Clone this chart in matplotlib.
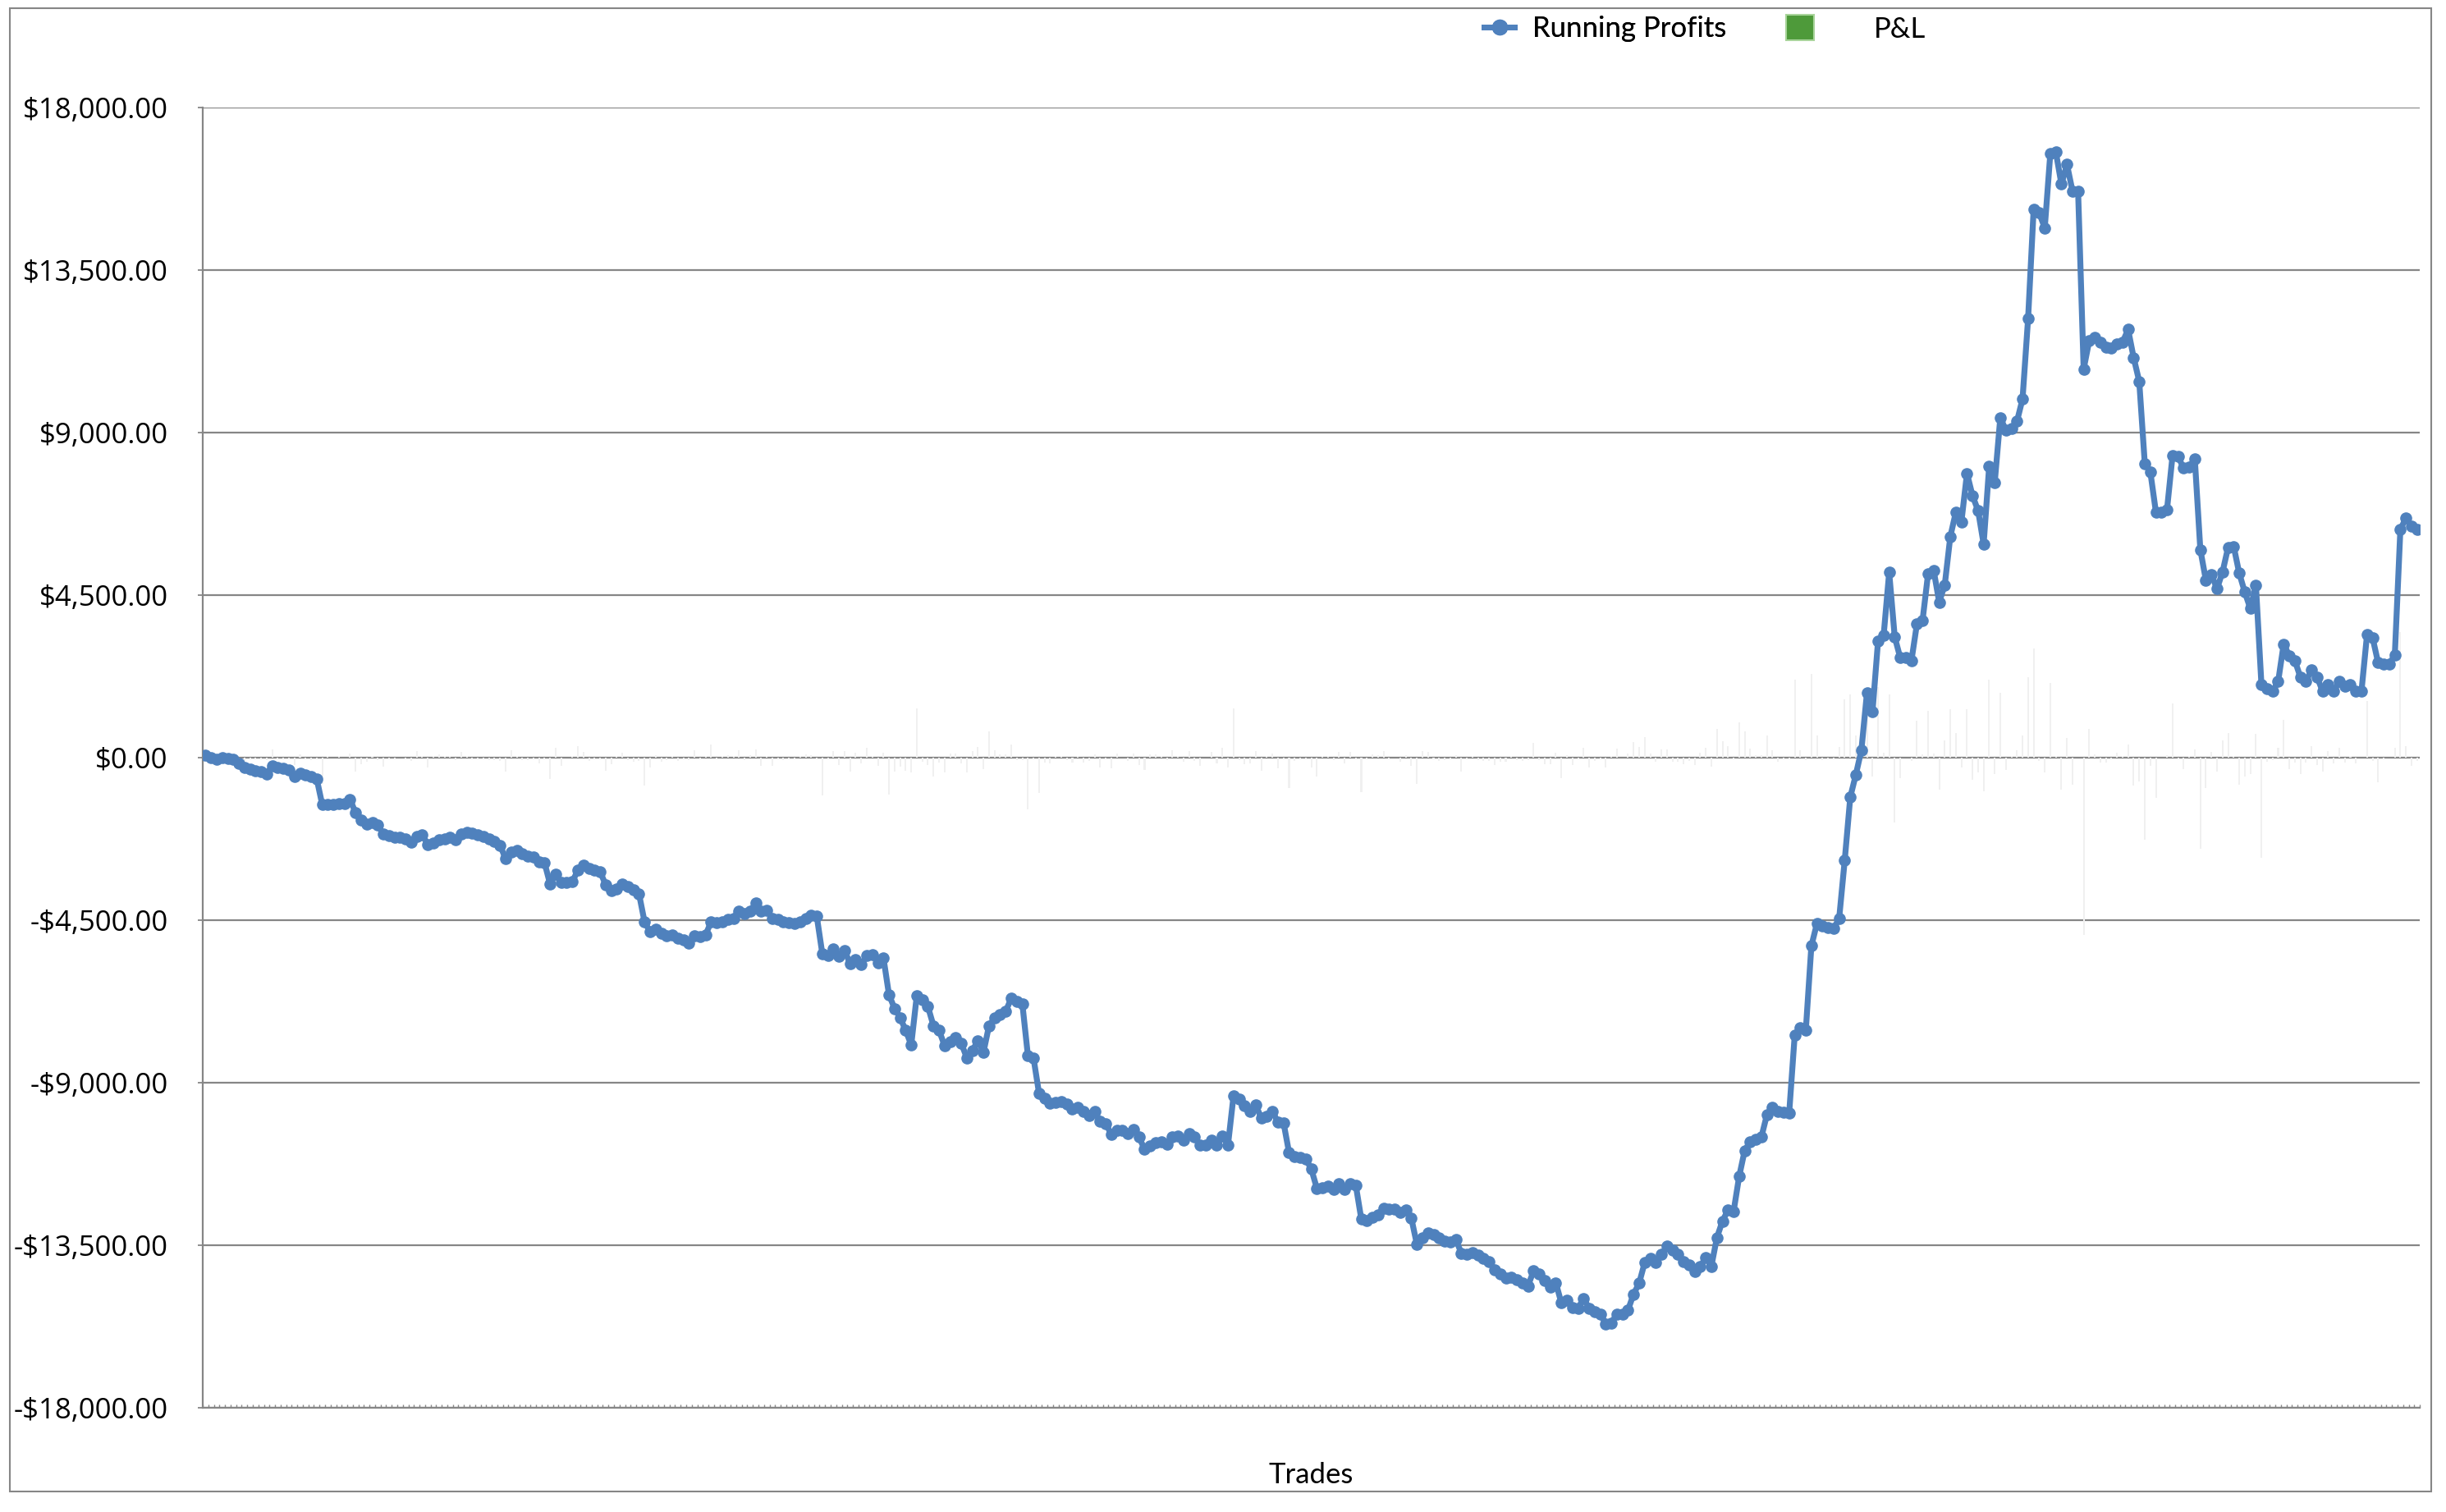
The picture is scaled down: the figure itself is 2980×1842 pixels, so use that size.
# -*- coding: utf-8 -*-
"""
Running profits per trade, with the P&L of each trade as bars
"""

import numpy as np
import matplotlib.pyplot as plt
from matplotlib.lines import Line2D
from matplotlib.patches import Patch, Rectangle
from matplotlib.ticker import FuncFormatter

###############################################################################
# running profit after each trade (in $)
profits_a = [76, 0, -38, 0, -15, -53, -167, -280, -318, -356, -394, -455, -220,
             -265, -303, -333, -530, -432, -470, -530, -583, -1303, -1288, -1288,
             -1265, -1265, -1152, -1530, -1720, -1833, -1795, -1871, -2121, -2152,
             -2197, -2197, -2250, -2348, -2174, -2136, -2402, -2364, -2273, -2250,
             -2197, -2273, -2121, -2076, -2098, -2136, -2174, -2250, -2326, -2424,
             -2803, -2606, -2576, -2652, -2727, -2742, -2894, -2909, -3500, -3235,
             -3462, -3462, -3440, -3121, -2970]
profits_b = [-3061, -3106, -3159, -3515, -3689, -3636, -3500, -3561, -3667, -3765,
             -4545, -4826, -4750, -4864, -4924, -4902, -5000, -5053, -5129, -4924,
             -4955, -4902, -4545, -4561, -4545, -4485, -4447, -4242, -4318, -4258,
             -4030, -4258, -4220, -4447, -4485, -4545, -4576, -4598, -4545, -4447,
             -4371, -4394, -5432, -5485, -5303, -5508, -5333, -5712, -5583, -5735,
             -5470, -5455, -5682, -5545, -6568, -6947, -7197, -7553, -7955, -6591,
             -6697, -6894, -7424, -7553, -7970, -7856, -7742, -7909, -8311, -8121]
profits_c = [-7833, -8159, -7424, -7212, -7121, -7023, -6667, -6742, -6818, -8258,
             -8311, -9295, -9424, -9576, -9545, -9523, -9598, -9727, -9674, -9803,
             -9902, -9803, -10076, -10129, -10432, -10318, -10318, -10409, -10303,
             -10508, -10848, -10758, -10659, -10636, -10712, -10508, -10470, -10583,
             -10409, -10508, -10735, -10735, -10583, -10735, -10470, -10735, -9371,
             -9447, -9636, -9803, -9621, -9977, -9924, -9803, -10091, -10106, -10939,
             -11038, -11076, -11114, -11394, -11924, -11909, -11871, -11947, -11795,
             -11947, -11795, -11833, -12780]
profits_d = [-12826, -12735, -12659, -12470, -12492, -12492, -12598, -12523, -12750,
             -13477, -13303, -13152, -13205, -13303, -13379, -13402, -13341, -13720,
             -13758, -13705, -13780, -13871, -13962, -14174, -14288, -14402, -14386,
             -14462, -14553, -14629, -14212, -14288, -14477, -14667, -14538, -15098,
             -15023, -15220, -15250, -14970, -15250, -15348, -15402, -15674, -15652,
             -15402, -15402, -15295, -14856, -14553, -13985, -13871, -13985, -13758,
             -13530, -13644, -13758, -13947, -14038, -14235, -14098, -13833, -14083]
profits_e = [-13287, -12834, -12525, -12566, -11598, -10877, -10630, -10570, -10506,
             -9888, -9682, -9806, -9830, -9847, -7684, -7478, -7540, -5212, -4594,
             -4656, -4697, -4738, -4450, -2843, -1092, -474, 206, 1792, 1277, 3234,
             3378, 5129, 3337, 2760, 2760, 2678, 3708, 3790, 5088, 5191, 4305, 4779,
             6118, 6798, 6530, 7869, 7251, 6839, 5912, 8075, 7622, 9414, 9064, 9105,
             9311, 9929, 12154, 15182, 15079, 14667, 16727]
profits_f = [16763, 15875, 16423, 15679, 15679, 10757, 11541, 11632, 11502, 11371,
             11332, 11463, 11502, 11854, 11071, 10418, 8146, 7911, 6802, 6802, 6867,
             8368, 8329, 8016, 8042, 8277, 5757, 4909, 5065, 4674, 5143, 5822, 5849,
             5104, 4582, 4125, 4778, 2010, 1906, 1841, 2102, 3146, 2820, 2689, 2232,
             2102, 2428, 2232, 1841, 2010, 1841, 2102, 1971, 2010, 1841, 1841, 3407,
             3316, 2624, 2585, 2585, 2846, 6319, 6632, 6410, 6319]

y_ticks = [-18000, -13500, -9000, -4500, 0, 4500, 9000, 13500, 18000]

###############################################################################
def money(v, pos):
    sign = '-' if v < 0 else ''
    return sign + '${:,.2f}'.format(abs(v))

###############################################################################
def drawChart(running, outName):
    n = len(running)
    trades = np.arange(n)
    # P&L of each trade is the step in the running total
    pnl = np.diff(np.concatenate([[0], running]))

    fig = plt.figure(figsize=(29.8, 18.42), dpi=100)
    ax = fig.add_axes([0.0829, 0.0690, 0.9064, 0.8599])

    ax.bar(trades, pnl, width=0.3, color='#f0f0f0', zorder=1)
    ax.plot(trades, running, color='#4f81bd', lw=5.2, marker='o', ms=9.5,
            zorder=3)

    ax.set_xlim(-0.5, n - 0.5)
    ax.set_ylim(-18000, 18000)
    ax.set_yticks(y_ticks)
    ax.yaxis.set_major_formatter(FuncFormatter(money))
    ax.set_xticks(np.arange(n + 1) - 0.5)
    ax.set_xticklabels([])

    ax.grid(axis='y', color='#868686', lw=1.6)
    ax.set_axisbelow(True)
    for s in ['top', 'right']:
        ax.spines[s].set_visible(False)
    for s in ['left', 'bottom']:
        ax.spines[s].set_color('#868686')
        ax.spines[s].set_linewidth(1.6)

    ax.tick_params(axis='x', direction='in', length=3, width=1,
                   color='#868686')
    ax.tick_params(axis='y', direction='out', length=4.5, width=1.3,
                   color='#868686', pad=26, labelsize=25)
    for t in ax.get_yticklabels():
        t.set_fontfamily(['Open Sans', 'DejaVu Sans'])

    ax.set_xlabel('Trades', fontsize=25, family=['Lato', 'DejaVu Sans'],
                  labelpad=44)

    # two legend entries, spaced like the original
    h1 = Line2D([], [], color='#4f81bd', lw=5, marker='o', ms=13)
    leg1 = fig.legend([h1], ['Running Profits'], loc='center left',
                      bbox_to_anchor=(0.6010, 0.981), frameon=False,
                      borderpad=0, handlelength=1.05, handletextpad=0.63,
                      prop={'family': ['Lato', 'DejaVu Sans'], 'size': 25})
    h2 = Patch(facecolor='#4e9a3a', edgecolor='#a8d49a', lw=1.5)
    fig.legend([h2], ['P&L'], loc='center left',
               bbox_to_anchor=(0.7245, 0.981), frameon=False,
               borderpad=0, handlelength=0.98, handleheight=1.0,
               handletextpad=2.1,
               prop={'family': ['Lato', 'DejaVu Sans'], 'size': 25})
    fig.add_artist(leg1)

    # grey frame round the whole chart
    fig.add_artist(Rectangle((0.004, 0.0136), 0.99, 0.981,
                             transform=fig.transFigure, fill=False,
                             edgecolor='#868686', lw=1.5))

    fig.savefig(outName, dpi=100)

##########################  main  #############################################
if __name__ == "__main__":
    running = (profits_a + profits_b + profits_c + profits_d + profits_e
               + profits_f)
    drawChart(np.array(running, dtype=float), "out.png")
